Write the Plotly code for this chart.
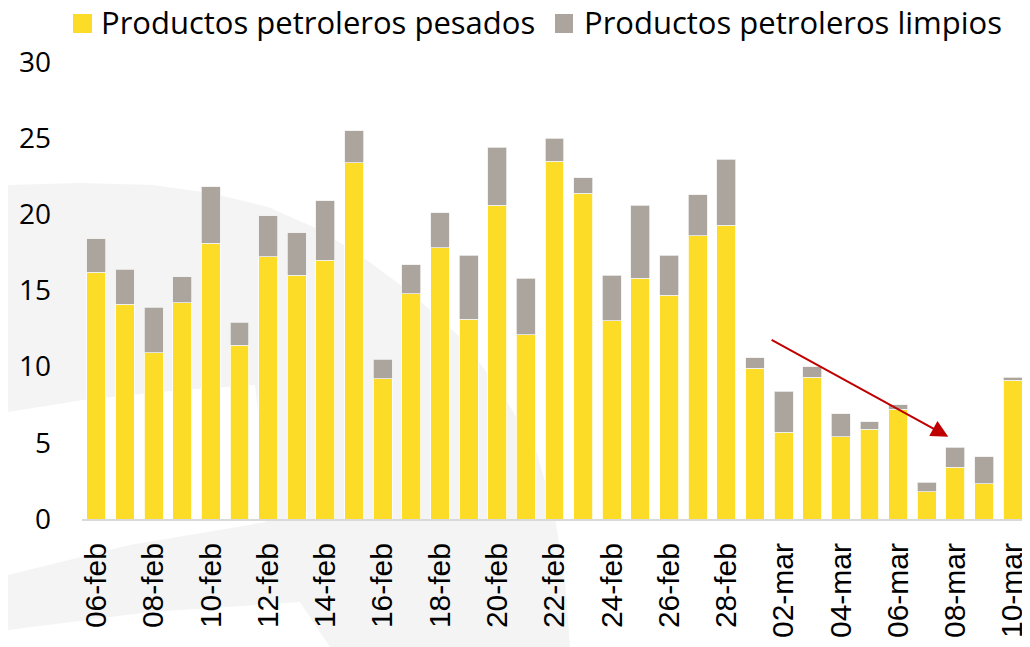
import plotly.graph_objects as go

fechas = ["06-feb", "07-feb", "08-feb", "09-feb", "10-feb", "11-feb", "12-feb", "13-feb",
          "14-feb", "15-feb", "16-feb", "17-feb", "18-feb", "19-feb", "20-feb", "21-feb",
          "22-feb", "23-feb", "24-feb", "25-feb", "26-feb", "27-feb", "28-feb", "01-mar",
          "02-mar", "03-mar", "04-mar", "05-mar", "06-mar", "07-mar", "08-mar", "09-mar",
          "10-mar"]

pesados = [16.2, 14.1, 10.9, 14.2, 18.1, 11.4, 17.2, 16.0, 17.0, 23.4, 9.2, 14.8, 17.8,
           13.1, 20.6, 12.1, 23.5, 21.4, 13.0, 15.8, 14.7, 18.6, 19.3, 9.9, 5.7, 9.3,
           5.4, 5.9, 7.2, 1.8, 3.4, 2.3, 9.1]

limpios = [2.2, 2.3, 3.0, 1.7, 3.7, 1.5, 2.7, 2.8, 3.9, 2.1, 1.3, 1.9, 2.3,
           4.2, 3.8, 3.7, 1.5, 1.0, 3.0, 4.8, 2.6, 2.7, 4.3, 0.7, 2.7, 0.7,
           1.5, 0.5, 0.3, 0.6, 1.3, 1.8, 0.2]

etiquetas_x = fechas[::2]
series = ["Productos petroleros pesados", "Productos petroleros limpios"]

AMARILLO = "#FCDC26"
GRIS = "#ABA59D"

fig = go.Figure()
fig.add_trace(go.Bar(x=fechas, y=pesados, name=series[0], showlegend=False,
                     marker=dict(color=AMARILLO, line=dict(color="#FFFFFF", width=0.8))))
fig.add_trace(go.Bar(x=fechas, y=limpios, name=series[1], showlegend=False,
                     marker=dict(color=GRIS, line=dict(color="#F0F0F0", width=0.8))))

# The page has an 8px body margin, so the figure is 8px smaller and offset.
OFF = 8
W, H = 1030 - OFF, 647 - OFF
# plot area in page pixels
PL, PR, PT, PB = 82, 1027, 62, 519
L, R, T, B = PL - OFF, PR - OFF, PT - OFF, PB - OFF

def px(x):  # page pixel x -> paper
    return (x - PL) / (PR - PL)
def py(y):  # page pixel y -> paper
    return (PB - y) / (PB - PT)

def path(points):
    s = "M {:.4f} {:.4f}".format(px(points[0][0]), py(points[0][1]))
    for (x, y) in points[1:]:
        s += " L {:.4f} {:.4f}".format(px(x), py(y))
    return s + " Z"

grey_band = [(8, 185), (80, 183), (153, 185), (210, 193), (268, 207), (320, 230), (364, 258),
             (410, 292), (460, 337), (500, 390), (536, 450), (555, 517), (565, 580),
             (570, 647), (8, 647)]
white_lens = [(8, 412), (83, 400), (180, 390), (255, 385), (262, 450),
              (266, 522), (130, 545), (8, 575)]
white_bottom = [(8, 630), (150, 612), (300, 602), (330, 647), (8, 647)]

shapes = [
    dict(type="path", xref="paper", yref="paper", path=path(grey_band),
         fillcolor="#F4F4F4", line=dict(width=0), layer="below"),
    dict(type="path", xref="paper", yref="paper", path=path(white_lens),
         fillcolor="#FFFFFF", line=dict(width=0), layer="below"),
    dict(type="path", xref="paper", yref="paper", path=path(white_bottom),
         fillcolor="#FFFFFF", line=dict(width=0), layer="below"),
    # legend swatches
    dict(type="rect", xref="paper", yref="paper", x0=px(73), x1=px(92), y0=py(33), y1=py(14),
         fillcolor=AMARILLO, line=dict(width=0)),
    dict(type="rect", xref="paper", yref="paper", x0=px(555), x1=px(573), y0=py(33), y1=py(14),
         fillcolor=GRIS, line=dict(width=0)),
]

legend_font = dict(family="Open Sans", size=31, color="#000000")
annotations = [
    dict(x=px(99), y=py(22), xref="paper", yref="paper", text=series[0], showarrow=False,
         xanchor="left", yanchor="middle", font=legend_font),
    dict(x=px(582), y=py(22), xref="paper", yref="paper", text=series[1], showarrow=False,
         xanchor="left", yanchor="middle", font=legend_font),
    dict(x=29.75, y=5.4, ax=23.53, ay=11.82, xref="x", yref="y",
         axref="x", ayref="y", text="", showarrow=True,
         arrowhead=2, arrowsize=1.7, arrowwidth=2, arrowcolor="#C00000"),
]

fig.update_layout(
    barmode="stack",
    bargap=0.34,
    width=W, height=H,
    margin=dict(l=L, r=W - R, t=T, b=H - B, autoexpand=False),
    paper_bgcolor="#FFFFFF",
    plot_bgcolor="rgba(0,0,0,0)",
    shapes=shapes,
    annotations=annotations,
    showlegend=False,
    xaxis=dict(type="category", tickmode="array", tickvals=etiquetas_x, ticktext=etiquetas_x,
               tickangle=-90, tickfont=dict(family="Liberation Sans", size=30, color="#000000"),
               showline=True, linecolor="#D9D9D9", linewidth=2, ticks="",
               showgrid=False, ticklabelstandoff=10, automargin=False),
    yaxis=dict(range=[0, 30], dtick=5, showgrid=False, zeroline=False, showline=False,
               tickfont=dict(family="Open Sans", size=28, color="#000000"),
               ticks="", ticklabelstandoff=30, automargin=False),
)

fig.write_html("out.html")
